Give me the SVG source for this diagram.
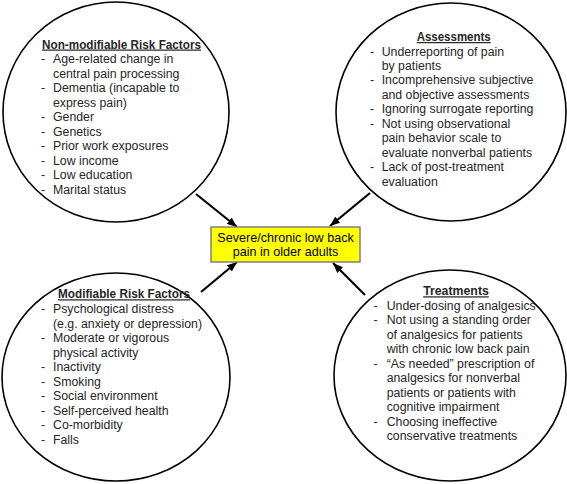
<svg xmlns="http://www.w3.org/2000/svg" width="567" height="484" viewBox="0 0 567 484">
<defs>
<style>
.c{fill:#fff;stroke:#000;stroke-width:1.6}
text{font-family:"Liberation Sans",Arial,sans-serif;font-size:12.3px;fill:#262626}
.t{font-weight:bold;text-decoration:underline;text-anchor:middle}
.a{stroke:#000;stroke-width:2.2;fill:none}
.b{fill:#ffff00;stroke:#7f7f7f;stroke-width:1.5}
.m{text-anchor:middle;fill:#000;font-size:12.6px}
</style>
<marker id="ah" viewBox="0 0 10 8" markerWidth="10" markerHeight="8" refX="10" refY="4" orient="auto" markerUnits="userSpaceOnUse">
<path d="M0,0 L10,4 L0,8 z" fill="#000"/>
</marker>
</defs>
<g id="connectors">
<line class="a" x1="196" y1="194" x2="237" y2="227" marker-end="url(#ah)"/>
<line class="a" x1="370" y1="193" x2="330" y2="226" marker-end="url(#ah)"/>
<line class="a" x1="201" y1="292" x2="237" y2="262" marker-end="url(#ah)"/>
<line class="a" x1="365" y1="295" x2="333" y2="263" marker-end="url(#ah)"/>
</g>
<g id="nonmodifiable">
<ellipse class="c" cx="116" cy="112" rx="113" ry="110"/>
<text class="t" x="121.5" y="48.5" textLength="159" lengthAdjust="spacingAndGlyphs">Non-modifiable Risk Factors</text>
<text x="41" y="63.3">-</text><text x="53" y="63.3">Age-related change in</text>
<text x="53" y="77.8">central pain processing</text>
<text x="41" y="92.3">-</text><text x="53" y="92.3">Dementia (incapable to</text>
<text x="53" y="106.8">express pain)</text>
<text x="41" y="121.2">-</text><text x="53" y="121.2">Gender</text>
<text x="41" y="135.7">-</text><text x="53" y="135.7">Genetics</text>
<text x="41" y="150.2">-</text><text x="53" y="150.2">Prior work exposures</text>
<text x="41" y="164.8">-</text><text x="53" y="164.8">Low income</text>
<text x="41" y="179.3">-</text><text x="53" y="179.3">Low education</text>
<text x="41" y="193.8">-</text><text x="53" y="193.8">Marital status</text>
</g>
<g id="assessments">
<ellipse class="c" cx="451" cy="112" rx="115" ry="109"/>
<text class="t" x="453.7" y="41" textLength="74" lengthAdjust="spacingAndGlyphs">Assessments</text>
<text x="370" y="55.7">-</text><text x="381.7" y="55.7">Underreporting of pain</text>
<text x="381.7" y="70">by patients</text>
<text x="370" y="84.4">-</text><text x="381.7" y="84.4">Incomprehensive subjective</text>
<text x="381.7" y="99">and objective assessments</text>
<text x="370" y="113.4">-</text><text x="381.7" y="113.4">Ignoring surrogate reporting</text>
<text x="370" y="127.8">-</text><text x="381.7" y="127.8">Not using observational</text>
<text x="381.7" y="142.3">pain behavior scale to</text>
<text x="381.7" y="156.7">evaluate nonverbal patients</text>
<text x="370" y="171.1">-</text><text x="381.7" y="171.1">Lack of post-treatment</text>
<text x="381.7" y="185.6">evaluation</text>
</g>
<g id="modifiable">
<ellipse class="c" cx="116" cy="377" rx="114" ry="104"/>
<text class="t" x="124" y="298.3" textLength="132" lengthAdjust="spacingAndGlyphs">Modifiable Risk Factors</text>
<text x="41" y="313.3">-</text><text x="53" y="313.3">Psychological distress</text>
<text x="53" y="327.8">(e.g. anxiety or depression)</text>
<text x="41" y="342.3">-</text><text x="53" y="342.3">Moderate or vigorous</text>
<text x="53" y="356.8">physical activity</text>
<text x="41" y="371.2">-</text><text x="53" y="371.2">Inactivity</text>
<text x="41" y="385.7">-</text><text x="53" y="385.7">Smoking</text>
<text x="41" y="400.2">-</text><text x="53" y="400.2">Social environment</text>
<text x="41" y="414.8">-</text><text x="53" y="414.8">Self-perceived health</text>
<text x="41" y="429.3">-</text><text x="53" y="429.3">Co-morbidity</text>
<text x="41" y="443.8">-</text><text x="53" y="443.8">Falls</text>
</g>
<g id="treatments">
<ellipse class="c" cx="450" cy="375.5" rx="116" ry="105.5"/>
<text class="t" x="456" y="295.3" textLength="65.7" lengthAdjust="spacingAndGlyphs">Treatments</text>
<text x="373.5" y="310">-</text><text x="386.7" y="310">Under-dosing of analgesics</text>
<text x="373.5" y="324.4">-</text><text x="386.7" y="324.4">Not using a standing order</text>
<text x="386.7" y="338.9">of analgesics for patients</text>
<text x="386.7" y="353.3">with chronic low back pain</text>
<text x="373.5" y="367.8">-</text><text x="386.7" y="367.8">“As needed” prescription of</text>
<text x="386.7" y="382.3">analgesics for nonverbal</text>
<text x="386.7" y="396.7">patients or patients with</text>
<text x="386.7" y="411.1">cognitive impairment</text>
<text x="373.5" y="425.6">-</text><text x="386.7" y="425.6">Choosing ineffective</text>
<text x="386.7" y="440">conservative treatments</text>
</g>
<g id="center">
<rect class="b" x="211" y="227" width="149" height="35"/>
<text class="m" x="285.5" y="241.7">Severe/chronic low back</text>
<text class="m" x="285.5" y="256">pain in older adults</text>
</g>
</svg>
